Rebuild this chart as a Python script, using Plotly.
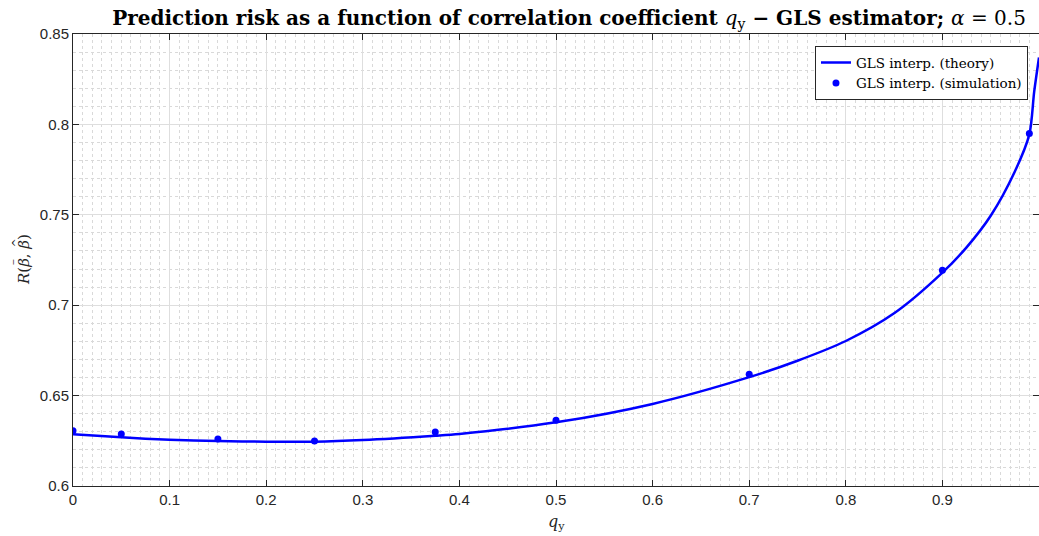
import plotly.graph_objects as go

# theory curve
q_theory = [0, 0.05, 0.1, 0.15, 0.2, 0.25, 0.3, 0.375, 0.4, 0.5, 0.6, 0.7,
            0.75, 0.8, 0.85, 0.9, 0.925, 0.95, 0.975, 0.99, 0.995, 1.0]
R_theory = [0.6286, 0.6269, 0.6256, 0.6249, 0.6245, 0.6245, 0.6254, 0.6278,
            0.6288, 0.6352, 0.6454, 0.6602, 0.6693, 0.6802, 0.6955, 0.7180,
            0.7320, 0.7495, 0.7740, 0.7945, 0.8180, 0.8370]

# simulation points
q_sim = [0, 0.05, 0.15, 0.25, 0.375, 0.5, 0.7, 0.9, 0.99]
R_sim = [0.6305, 0.6288, 0.6260, 0.6249, 0.6299, 0.6364, 0.6618, 0.7193, 0.7950]

x_ticks = [0, 0.1, 0.2, 0.3, 0.4, 0.5, 0.6, 0.7, 0.8, 0.9, 1]
x_ticklabels = ["0", "0.1", "0.2", "0.3", "0.4", "0.5", "0.6", "0.7", "0.8", "0.9", "1"]
y_ticks = [0.6, 0.65, 0.7, 0.75, 0.8, 0.85]
y_ticklabels = ["0.6", "0.65", "0.7", "0.75", "0.8", "0.85"]

BLUE = "#0000ff"
AX = "#262626"
SERIF = "DejaVu Serif, Liberation Serif, serif"
SANS = "Liberation Sans, Arial, sans-serif"

fig = go.Figure()
fig.add_trace(go.Scatter(
    x=q_theory, y=R_theory, mode="lines", line=dict(color=BLUE, width=2.5, shape="spline", smoothing=0.8),
    name="GLS interp. (theory)"))
fig.add_trace(go.Scatter(
    x=q_sim, y=R_sim, mode="markers", marker=dict(color=BLUE, size=7),
    name="GLS interp. (simulation)"))

axis_common = dict(
    showline=True, linecolor=AX, linewidth=1, mirror="ticks",
    ticks="inside", ticklen=6, tickcolor=AX,
    tickfont=dict(family=SANS, size=15, color=AX),
    showgrid=True, gridcolor="#dedede", gridwidth=1,
    zeroline=False, automargin=False,
)

fig.update_layout(
    width=1039, height=536,
    margin=dict(l=73, r=0, t=34, b=50),
    paper_bgcolor="white", plot_bgcolor="white",
    title=dict(
        text="<b>Prediction risk as a function of correlation coefficient </b><i>q</i><sub>y</sub><b> − GLS estimator; </b><i>α</i> = 0.5",
        font=dict(family=SERIF, size=20, color="black"),
        x=569/1039, xanchor="center", xref="container",
        y=1 - 18/536, yanchor="middle", yref="container"),
    xaxis=dict(
        range=[0, 1], tickvals=x_ticks, ticktext=x_ticklabels,
        minor=dict(dtick=0.01, showgrid=True, gridcolor="#d9d9d9", griddash="dot", ticks=""),
        **axis_common),
    yaxis=dict(
        range=[0.6, 0.85], tickvals=y_ticks, ticktext=y_ticklabels,
        minor=dict(dtick=0.01, showgrid=True, gridcolor="#d9d9d9", griddash="dot", ticks=""),
        **axis_common),
    legend=dict(
        x=0.9886, y=0.973, xanchor="right", yanchor="top",
        bgcolor="white", bordercolor=AX, borderwidth=1,
        font=dict(family=SERIF, size=13.5, color="black"),
        tracegroupgap=0, itemwidth=30),
    showlegend=True,
    annotations=[
        dict(text="<i>q</i><sub>y</sub>", xref="paper", yref="paper",
             x=0.5, y=-0.08, xanchor="center", yanchor="middle", showarrow=False,
             font=dict(family=SERIF, size=16, color=AX)),
        dict(text="<i>R</i>(<i>β</i>, <i>β</i>)", xref="paper", yref="paper",
             x=-0.0507, y=0.5, xanchor="center", yanchor="middle", showarrow=False,
             textangle=-90, font=dict(family=SERIF, size=15, color=AX)),
        dict(text="−", xref="paper", yref="paper",
             x=-0.0615, y=0.4956, xanchor="center", yanchor="middle", showarrow=False,
             textangle=-90, font=dict(family=SERIF, size=8, color=AX)),
        dict(text="^", xref="paper", yref="paper",
             x=-0.0595, y=0.5376, xanchor="center", yanchor="middle", showarrow=False,
             textangle=-90, font=dict(family=SERIF, size=11, color=AX)),
    ],
)

fig.write_html(
    "out.html",
    config={"displayModeBar": False},
    post_script="document.body.style.margin='0';document.body.style.overflow='hidden';",
)
